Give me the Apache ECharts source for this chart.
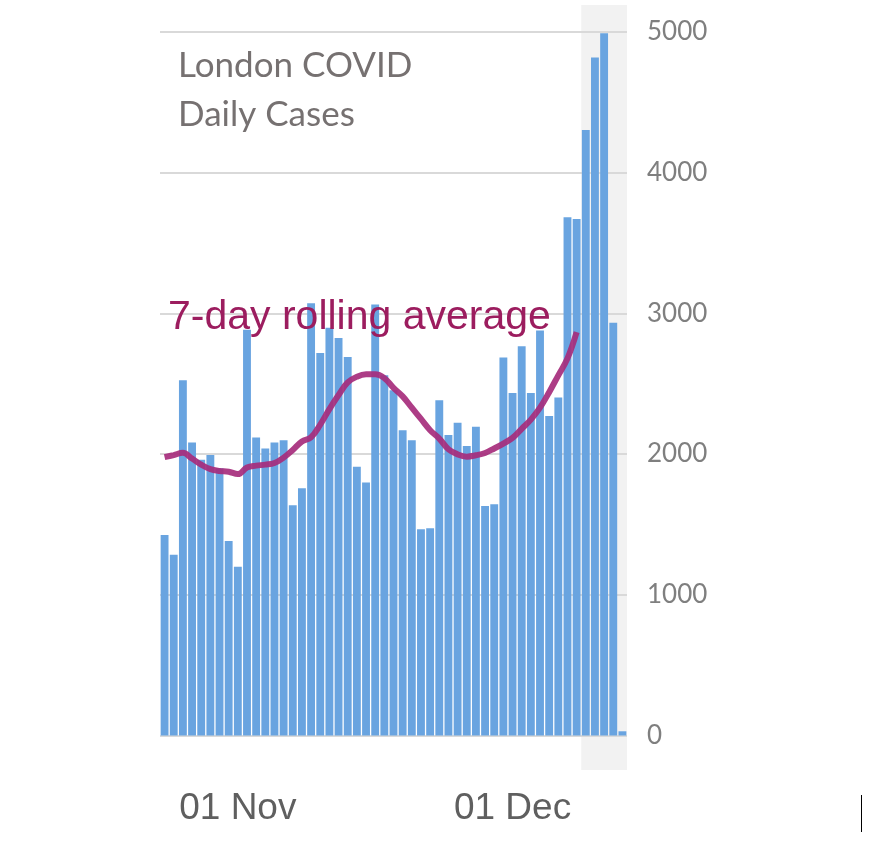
<!DOCTYPE html>
<html>
<head>
<meta charset="utf-8">
<script src="https://cdn.jsdelivr.net/npm/echarts@6/dist/echarts.min.js"></script>
<style>
  html, body { margin: 0; padding: 0; background: #ffffff; }
  #chart { width: 881px; height: 841px; }
</style>
</head>
<body>
<div id="chart"></div>
<script>
const categories = [
  '24 Oct','25 Oct','26 Oct','27 Oct','28 Oct','29 Oct','30 Oct','31 Oct',
  '01 Nov','02 Nov','03 Nov','04 Nov','05 Nov','06 Nov','07 Nov','08 Nov','09 Nov','10 Nov',
  '11 Nov','12 Nov','13 Nov','14 Nov','15 Nov','16 Nov','17 Nov','18 Nov','19 Nov','20 Nov',
  '21 Nov','22 Nov','23 Nov','24 Nov','25 Nov','26 Nov','27 Nov','28 Nov','29 Nov','30 Nov',
  '01 Dec','02 Dec','03 Dec','04 Dec','05 Dec','06 Dec','07 Dec','08 Dec','09 Dec','10 Dec',
  '11 Dec','12 Dec','13 Dec'
];

const dailyCases = [
  1425, 1284, 2525, 2083, 1960, 1993, 1900, 1383,
  1200, 2884, 2118, 2040, 2083, 2099, 1636, 1757, 3073, 2718,
  2898, 2825, 2690, 1910, 1799, 3064, 2560, 2454, 2170, 2099,
  1466, 1473, 2383, 2135, 2222, 2057, 2194, 1631, 1643, 2686,
  2435, 2766, 2435, 2879, 2270, 2402, 3683, 3671, 4303, 4818,
  4991, 2934, 30
];

const rollingAverage = [
  1978, 1993, 2009, 1968, 1925, 1893, 1880, 1875,
  1858, 1905, 1918, 1925, 1937, 1975, 2030, 2090, 2120, 2210,
  2320, 2420, 2510, 2550, 2567, 2567, 2540, 2470, 2410, 2330,
  2250, 2170, 2110, 2035, 1998, 1982, 1992, 2008, 2040, 2075,
  2115, 2180, 2245, 2330, 2440, 2560, 2680, 2867,
  null, null, null, null, null
];

const yTicks = { min: 0, max: 5000, interval: 1000 };
const highlightStart = '09 Dec';
const highlightEnd = '13 Dec';

const chart = echarts.init(document.getElementById('chart'), null, { renderer: 'canvas' });

chart.setOption({
  animation: false,
  backgroundColor: '#ffffff',
  grid: { left: 160, right: 254, top: 32, bottom: 105.5, containLabel: false },
  xAxis: {
    type: 'category',
    data: categories,
    boundaryGap: true,
    axisLine: { show: false },
    axisTick: { show: false },
    axisLabel: {
      interval: function (i, v) { return v.indexOf('01 ') === 0; },
      fontFamily: 'Liberation Sans, Arial, sans-serif',
      fontSize: 37,
      color: '#5f5f5f',
      margin: 55
    }
  },
  yAxis: {
    type: 'value',
    position: 'right',
    min: yTicks.min,
    max: yTicks.max,
    interval: yTicks.interval,
    axisLine: { show: false },
    axisTick: { show: false },
    splitLine: { lineStyle: { color: '#d9d9d9', width: 2 } },
    axisLabel: {
      formatter: function (v) { return String(v); },
      fontFamily: 'Lato, sans-serif',
      fontSize: 26,
      color: '#7f7f7f',
      margin: 20
    }
  },
  series: [
    {
      type: 'bar',
      data: dailyCases,
      barCategoryGap: '14%',
      itemStyle: { color: '#69a4e0' },
      z: 2
    },
    {
      type: 'line',
      data: rollingAverage,
      smooth: 0.4,
      showSymbol: false,
      symbol: 'none',
      lineStyle: { color: '#a62c7c', width: 6, opacity: 0.92 },
      z: 3
    }
  ]
});

const x0 = chart.convertToPixel({ xAxisIndex: 0 }, highlightStart);
const x1 = chart.convertToPixel({ xAxisIndex: 0 }, highlightEnd);
const step = chart.convertToPixel({ xAxisIndex: 0 }, categories[1]) - chart.convertToPixel({ xAxisIndex: 0 }, categories[0]);

chart.setOption({
  graphic: [
    {
      type: 'rect',
      z: -10,
      silent: true,
      shape: { x: x0 - step / 2, y: 5, width: (x1 - x0) + step, height: 765 },
      style: { fill: '#f2f2f2' }
    },
    {
      type: 'text',
      left: 178, top: 48,
      style: { text: 'London COVID', fontFamily: 'Lato, sans-serif', fontSize: 35, fill: '#767171' }
    },
    {
      type: 'text',
      left: 178, top: 97,
      style: { text: 'Daily Cases', fontFamily: 'Lato, sans-serif', fontSize: 35, fill: '#767171' }
    },
    {
      type: 'text',
      left: 168, top: 297,
      z: 10,
      style: { text: '7-day rolling average', fontFamily: 'Liberation Sans, Arial, sans-serif', fontSize: 41, fill: '#9c1d5f' }
    },
    {
      type: 'line',
      shape: { x1: 861.5, y1: 795, x2: 861.5, y2: 832 },
      style: { stroke: '#000000', lineWidth: 1 }
    }
  ]
});
</script>
</body>
</html>
